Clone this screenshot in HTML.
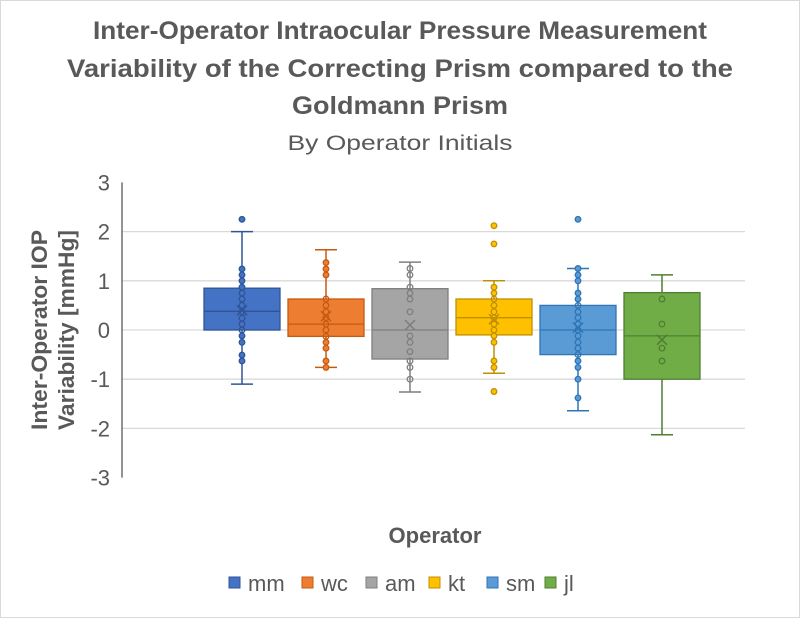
<!DOCTYPE html>
<html><head><meta charset="utf-8"><style>
body{margin:0;background:#fff;}
svg text{font-family:"Liberation Sans",sans-serif;}
</style></head><body>
<svg width="800" height="618" viewBox="0 0 800 618" xmlns="http://www.w3.org/2000/svg">
<rect x="0.5" y="0.5" width="799" height="617" fill="#fff" stroke="#d9d9d9"/>
<g fill="#595959" font-weight="bold" font-size="25" text-anchor="middle">
<text x="400" y="39" textLength="614" lengthAdjust="spacingAndGlyphs">Inter-Operator Intraocular Pressure Measurement</text>
<text x="400" y="77" textLength="666" lengthAdjust="spacingAndGlyphs">Variability of the Correcting Prism compared to the</text>
<text x="400" y="114" textLength="216" lengthAdjust="spacingAndGlyphs">Goldmann Prism</text>
</g>
<text x="400" y="150" fill="#595959" font-size="21" text-anchor="middle" textLength="225" lengthAdjust="spacingAndGlyphs">By Operator Initials</text>
<g transform="translate(47,330) rotate(-90)" fill="#595959" font-weight="bold" font-size="22" text-anchor="middle">
<text x="0" y="0" textLength="200" lengthAdjust="spacingAndGlyphs">Inter-Operator IOP</text>
<text x="0" y="27" textLength="200" lengthAdjust="spacingAndGlyphs">Variability  [mmHg]</text>
</g>
<text x="435" y="543" fill="#595959" font-weight="bold" font-size="22" text-anchor="middle">Operator</text>
<g id="grid"></g>
<g id="marks"></g>
<g id="legend"></g>
</svg>
<script>
const series = ["mm","wc","am","kt","sm","jl"];
const colors = ["#4472c4","#ed7d31","#a5a5a5","#ffc000","#5b9bd5","#70ad47"];
const strokes = ["#2f5597","#c55a11","#7f7f7f","#bf9000","#2e75b6","#507e32"];
const mins = [-1.1,-0.76,-1.26,-0.88,-1.64,-2.13];
const q1s = [0,-0.13,-0.59,-0.1,-0.5,-1.0];
const medians = [0.38,0.12,0,0.25,0,-0.12];
const q3s = [0.85,0.63,0.84,0.63,0.5,0.76];
const maxs = [2.0,1.63,1.38,1.0,1.25,1.12];
const means = [0.4,0.28,0.1,0.22,0.05,-0.2];
const ptsMm = [2.25,1.24,1.12,1.0,0.87,0.75,0.63,0.5,0.37,0.24,0.12,0,-0.12,-0.25,-0.51,-0.63];
const ptsWc = [1.37,1.24,1.12,0.63,0.5,0.37,0.25,0.12,0,-0.13,-0.25,-0.37,-0.63,-0.76];
const ptsAm = [1.25,1.12,0.87,0.75,0.63,0.37,-0.12,-0.25,-0.44,-0.63,-0.76,-1.0];
const ptsKt = [2.12,1.75,0.87,0.75,0.63,0.5,0.37,0.25,0.12,0,-0.12,-0.25,-0.63,-0.76,-1.25];
const ptsSm = [2.25,1.25,1.12,1.0,0.75,0.63,0.5,0.37,0.25,0.12,0,-0.12,-0.25,-0.37,-0.5,-0.63,-0.76,-1.0,-1.38];
const ptsJl = [0.63,0.12,-0.37,-0.63];
const points = [ptsMm,ptsWc,ptsAm,ptsKt,ptsSm,ptsJl];
const filledPts = [true,true,false,true,true,false];
const yTicks = [3,2,1,0,-1,-2,-3];
const NS="http://www.w3.org/2000/svg";
const X0=122, X1=745, Y0=330, PX=49.2;
function y(v){return Y0 - v*PX;}
function xc(i){return 242 + i*84;}
function mk(tag,attrs,parent){const e=document.createElementNS(NS,tag);for(const k in attrs)e.setAttribute(k,attrs[k]);parent.appendChild(e);return e;}
const grid=document.getElementById('grid'), marks=document.getElementById('marks'), legend=document.getElementById('legend');
yTicks.forEach(t=>{
  if(t!==3 && t!==-3){const l=mk('line',{x1:X0,x2:X1,y1:y(t),y2:y(t),stroke:'#d9d9d9','stroke-width':1.3},grid);
  
  }
  const tx=mk('text',{x:X0-12,y:y(t)+8,'text-anchor':'end','font-size':22,fill:'#595959'},grid);
  tx.textContent=t;
  
  
});
const ax=mk('line',{x1:X0,x2:X0,y1:y(3),y2:y(-3),stroke:'#595959','stroke-width':1.3},grid);


series.forEach((s,i)=>{
  const g=mk('g',{},marks);
  
  
  const c=xc(i), hw=38, st=strokes[i];
  mk('line',{x1:c,x2:c,y1:y(maxs[i]),y2:y(q3s[i]),stroke:st,'stroke-width':1.5},g);
  mk('line',{x1:c,x2:c,y1:y(q1s[i]),y2:y(mins[i]),stroke:st,'stroke-width':1.5},g);
  mk('line',{x1:c-11,x2:c+11,y1:y(maxs[i]),y2:y(maxs[i]),stroke:st,'stroke-width':1.5},g);
  mk('line',{x1:c-11,x2:c+11,y1:y(mins[i]),y2:y(mins[i]),stroke:st,'stroke-width':1.5},g);
  mk('rect',{x:c-hw,y:y(q3s[i]),width:2*hw,height:y(q1s[i])-y(q3s[i]),fill:colors[i],stroke:st,'stroke-width':1.3},g);
  mk('line',{x1:c-hw,x2:c+hw,y1:y(medians[i]),y2:y(medians[i]),stroke:st,'stroke-width':1.3},g);
  const m=y(means[i]);
  mk('path',{d:`M${c-5} ${m-5}L${c+5} ${m+5}M${c-5} ${m+5}L${c+5} ${m-5}`,stroke:st,'stroke-width':1.5,fill:'none'},g);
  points[i].forEach(v=>{
    const inBox = v<=q3s[i] && v>=q1s[i];
    const f = filledPts[i] ? (inBox ? 'none' : colors[i]) : 'none';
    const p=mk('circle',{cx:c,cy:y(v),r:2.8,fill:f,stroke:st,'stroke-width':1.3},g);
    
    
  });
});
const lx=[229,302,366,429,487,545];
series.forEach((s,i)=>{
  const g=mk('g',{},legend);
  
  
  mk('rect',{x:lx[i],y:577,width:11,height:11,fill:colors[i],stroke:strokes[i],'stroke-width':1},g);
  const t=mk('text',{x:lx[i]+19,y:591,'font-size':22,fill:'#595959'},g);
  t.textContent=s;
});
</script>
</body></html>
